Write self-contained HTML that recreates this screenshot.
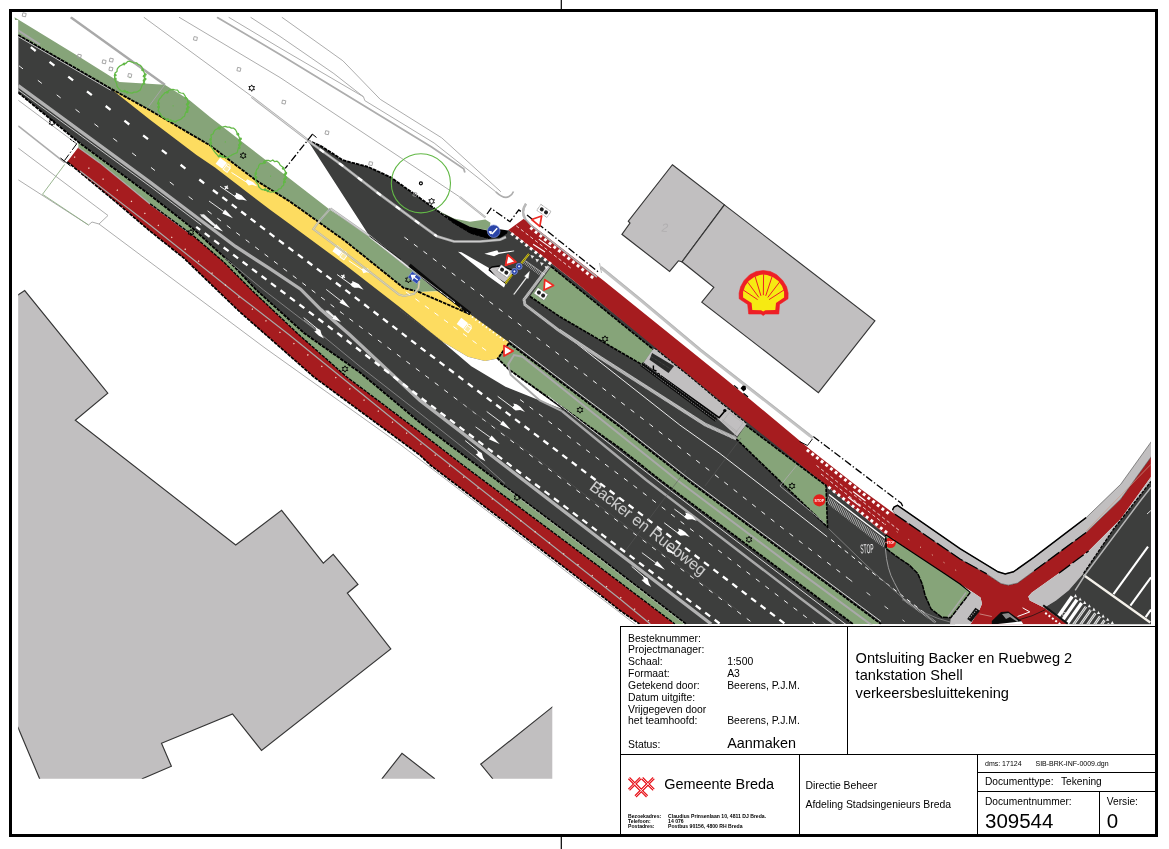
<!DOCTYPE html><html><head><meta charset="utf-8"><title>Ontsluiting Backer en Ruebweg 2</title>
<style>html,body{margin:0;padding:0;background:#fff}svg{display:block;will-change:transform}text{font-family:"Liberation Sans",sans-serif;fill:#000}</style></head><body>
<svg width="1169" height="849" viewBox="0 0 1169 849">
<rect width="1169" height="849" fill="#fff"/>
<defs><clipPath id="mapclip"><path d="M14,16.5H1151V624.2H552.3V778.8H18.2V20H14Z"/></clipPath><clipPath id="zclip"><path d="M1044.2,607.8 L1056,600.5 L1068.8,590.3 L1080,577 L1125,610 L1125,626 L1067.8,624.4Z"/></clipPath></defs>
<g clip-path="url(#mapclip)">
<polyline points="70.7,17.2 164.8,84.8" fill="none" stroke="#a9a9a9" stroke-width="2.4" />
<polyline points="164.8,84.8 148.6,106.7" fill="none" stroke="#adadad" stroke-width="1.0" />
<polyline points="143.8,17.2 251.7,96.3" fill="none" stroke="#adadad" stroke-width="1.0" />
<polyline points="251.7,96.9 308.3,140.4" fill="none" stroke="#adadad" stroke-width="2.4" />
<polyline points="251.7,96.9 308.3,140.4" fill="none" stroke="#fff" stroke-width="0.6" />
<polyline points="179.0,17.2 280.0,77.5 459.8,197.0" fill="none" stroke="#adadad" stroke-width="1.0" />
<polyline points="459.8,197.0 485.5,217.5" fill="none" stroke="#adadad" stroke-width="2.2" />
<polyline points="459.8,197.0 485.5,217.5" fill="none" stroke="#fff" stroke-width="0.5" />
<polyline points="217.0,17.2 280.0,54.4 431.6,146.9 463.7,168.7 464.9,172.5" fill="none" stroke="#adadad" stroke-width="1.8" />
<polyline points="228.6,17.2 280.0,48.0 363.5,96.8 364.8,100.6 434.1,143.0 495.8,191.8" fill="none" stroke="#adadad" stroke-width="1.0" />
<path d="M495.8,191.8 Q504,199.5 509,196.5 Q512.5,194.5 513.5,191.5" fill="none" stroke="#adadad" stroke-width="1.6"/>
<polyline points="250.5,17.2 280.0,36.4 333.9,73.6 363.5,96.8" fill="none" stroke="#adadad" stroke-width="1.0" />
<polyline points="281.8,17.2 342.9,60.8 380.2,99.3 441.8,137.9 500.9,191.8" fill="none" stroke="#adadad" stroke-width="1.0" />
<polyline points="18.2,100.2 76.7,143.8" fill="none" stroke="#adadad" stroke-width="1.0" />
<polyline points="18.2,125.9 64.7,162.6" fill="none" stroke="#adadad" stroke-width="1.6" />
<polyline points="18.2,148.1 108.0,215.5 99.0,224.0 92.0,222.0" fill="none" stroke="#adadad" stroke-width="1.0" />
<polyline points="18.2,179.8 88.5,225.0 92.0,222.0" fill="none" stroke="#adadad" stroke-width="1.0" />
<polyline points="99.0,224.0 265.0,348.0 400.0,444.3 640.0,628.0" fill="none" stroke="#adadad" stroke-width="1.0" />
<polyline points="64.7,164.4 42.5,194.3 88.5,225.0" fill="none" stroke="#8fae85" stroke-width="0.9" />
<polygon points="10.0,300.0 18.0,295.0 24.7,290.6 107.8,393.1 75.3,420.3 235.7,545.0 281.6,510.4 323.3,563.1 333.2,554.3 358.0,584.3 347.3,593.2 390.8,649.0 261.5,750.4 232.5,714.0 161.5,743.3 171.4,766.3 142.4,778.7 130.0,800.0 39.6,800.0 39.6,778.7 18.0,727.4 10.0,720.0" fill="#c1bfc0" stroke="#363636" stroke-width="1.15" />
<polygon points="382.1,778.6 402.0,753.3 434.5,778.6 434.0,800.0 382.0,800.0" fill="#c1bfc0" stroke="#363636" stroke-width="1.15" />
<polygon points="552.2,707.1 480.7,764.2 492.6,778.6 492.0,800.0 570.0,800.0 570.0,693.0" fill="#c1bfc0" stroke="#363636" stroke-width="1.15" />
<polygon points="672.4,164.7 724.4,204.9 682.0,261.8 678.4,260.8 669.6,271.4 621.9,234.3 630.0,223.0 628.3,221.2" fill="#c1bfc0" stroke="#363636" stroke-width="1.15" />
<polygon points="724.4,204.9 874.9,320.8 818.4,392.6 701.8,302.1 713.8,287.3 682.0,261.8" fill="#c1bfc0" stroke="#363636" stroke-width="1.15" />
<polygon points="78.4,147.3 99.8,162.6 150.0,203.7 192.8,235.3 223.6,261.9 252.6,291.0 299.2,335.0 346.8,377.0 420.0,432.0 462.8,465.0 600.0,567.3 674.9,624.0 639.5,624.0 620.0,610.5 600.0,594.6 430.3,465.0 420.0,455.2 313.9,377.0 266.1,335.0 240.0,312.1 184.2,258.4 150.0,231.1 119.5,205.0 67.3,161.8" fill="#a61c1f" stroke="none" stroke-width="0" />
<polygon points="78.4,142.1 150.0,195.0 192.8,228.5 230.4,262.7 256.4,290.0 304.0,333.0 360.0,372.5 420.0,422.6 476.5,465.0 600.0,557.8 686.0,624.0 674.9,624.0 600.0,567.3 462.8,465.0 420.0,432.0 346.8,377.0 299.2,335.0 252.6,291.0 223.6,261.9 192.8,235.3 150.0,203.7 99.8,162.6 78.4,147.3" fill="#86a479" stroke="none" stroke-width="0" />
<polygon points="14.5,17.2 18.2,19.4 78.4,56.2 119.5,81.9 164.8,84.8 189.3,100.0 210.0,117.0 329.6,209.5 368.4,234.6 406.0,265.0 436.8,291.0 437.8,291.3 418.7,292.0 403.6,287.9 373.6,263.8 344.7,240.6 290.0,201.6 256.0,180.4 209.9,145.3 150.0,110.3 110.9,88.7 18.2,35.0" fill="#86a479" stroke="none" stroke-width="0" />
<polygon points="18.2,35.0 110.9,88.7 150.0,110.3 209.9,145.3 256.0,180.4 290.0,201.6 344.7,240.6 373.6,263.8 403.6,287.9 418.7,292.0 470.1,314.2 509.0,342.5 620.0,426.9 687.3,480.0 800.0,563.8 881.0,624.0 686.0,624.0 600.0,557.8 476.5,465.0 420.0,422.6 360.0,372.5 304.0,333.0 256.4,290.0 230.4,262.7 192.8,228.5 150.0,195.0 78.4,142.1 18.2,92.5" fill="#3d3e3d" stroke="none" stroke-width="0" />
<polygon points="307.7,140.5 320.5,145.7 342.8,160.2 368.4,167.0 390.7,177.3 411.2,191.9 435.2,209.0 454.0,222.7 471.0,232.9 488.2,238.0 505.0,233.3 508.4,229.9 551.2,263.2 572.8,280.0 753.3,425.0 826.1,485.2 885.7,534.7 945.5,574.2 960.0,584.1 968.0,592.0 955.0,624.4 870.0,624.0 800.0,572.0 687.0,488.0 620.0,436.0 505.0,350.0 470.1,314.2 436.8,291.0 406.0,265.0 368.4,234.6" fill="#3d3e3d" stroke="none" stroke-width="0" />
<polygon points="110.9,88.7 150.0,110.3 209.9,145.3 256.0,180.4 290.0,201.6 344.7,240.6 373.6,263.8 403.6,287.9 418.7,292.0 437.8,291.3 470.1,314.2 509.0,342.2 497.8,358.5 485.0,361.1 467.9,356.8 442.2,341.4 399.5,307.0 344.7,264.6 290.0,224.2 269.8,209.5 215.0,167.6 196.5,155.0 150.0,119.7 110.9,88.7" fill="#fddc60" stroke="none" stroke-width="0" />
<polygon points="442.2,341.4 467.9,356.8 485.0,361.1 497.8,358.5 509.0,369.6 562.0,409.0 539.8,400.4 505.5,386.7 471.3,366.2" fill="#fff" stroke="none" stroke-width="0" />
<polygon points="509.0,343.0 620.0,426.9 687.3,480.0 800.0,563.8 881.0,624.0 853.0,624.0 800.0,584.4 660.0,480.0 620.0,448.3 509.0,369.6 497.8,358.5" fill="#86a479" stroke="none" stroke-width="0" />
<polygon points="523.8,218.8 602.8,280.0 726.8,380.0 809.0,448.4 860.0,488.6 895.0,514.2 960.0,559.0 986.7,573.9 1001.0,583.6 1008.3,585.2 1017.5,583.1 1034.2,570.8 1086.1,532.5 1120.7,499.1 1150.9,457.1 1150.9,476.9 1120.7,518.9 1088.6,551.0 1058.9,573.3 1031.9,592.4 1028.3,596.5 1029.8,600.6 1044.2,607.8 1067.8,624.4 970.3,624.4 979.5,609.8 982.0,603.7 980.5,597.5 971.3,591.3 960.0,584.1 945.5,574.2 885.7,534.7 826.1,485.2 720.0,400.5 572.8,280.0 551.2,263.2 508.4,229.9" fill="#a61c1f" stroke="none" stroke-width="0" />
<polygon points="894.0,507.0 897.5,505.3 960.0,548.7 998.0,571.8 1005.2,573.9 1013.4,571.8 1034.2,557.2 1086.1,517.7 1120.7,484.3 1150.9,442.2 1160.0,430.0 1160.0,445.0 1150.9,457.1 1120.7,499.1 1086.1,532.5 1034.2,570.8 1017.5,583.1 1008.3,585.2 1001.0,583.6 986.7,573.9 960.0,559.0 895.0,514.2 892.5,510.0" fill="#c1bfc0" stroke="#444" stroke-width="0.6" stroke-linejoin="round"/>
<polyline points="892.5,510.0 894.0,507.0 897.5,505.3 960.0,548.7 998.0,571.8 1005.2,573.9 1013.4,571.8 1034.2,557.2 1086.1,517.7" fill="none" stroke="#000" stroke-width="1.5" />
<polyline points="895.0,514.2 960.0,559.0 986.7,573.9" fill="none" stroke="#000" stroke-width="1.3" stroke-dasharray="14 3" />
<polyline points="1034.2,570.8 1086.1,532.5" fill="none" stroke="#000" stroke-width="1.3" stroke-dasharray="14 3" />
<polygon points="1028.3,596.5 1031.9,592.4 1058.9,573.3 1088.6,551.0 1120.7,518.9 1150.9,476.9 1150.9,481.5 1113.3,529.5 1083.6,573.3 1068.8,590.3 1056.0,600.5 1044.2,607.8 1029.8,600.6" fill="#c1bfc0" stroke="none" stroke-width="0" />
<polygon points="1083.6,573.3 1113.3,529.5 1150.9,481.5 1160.0,470.0 1160.0,630.0 1067.8,624.4 1044.2,607.8 1056.0,600.5 1068.8,590.3" fill="#3d3e3d" stroke="none" stroke-width="0" />
<polygon points="551.2,266.7 653.2,349.3 642.1,364.7 560.0,316.8 530.0,296.5" fill="#86a479" stroke="none" stroke-width="0" />
<polygon points="745.7,425.3 826.0,485.5 827.5,527.0 736.3,439.0" fill="#86a479" stroke="none" stroke-width="0" />
<polygon points="885.7,534.7 945.5,574.2 960.0,584.1 970.3,592.4 950.7,617.7 941.4,617.1 931.1,609.0 925.2,595.7 922.2,583.9 917.8,573.6 909.0,564.8 895.7,556.0 886.2,548.6" fill="#86a479" stroke="none" stroke-width="0" />
<polygon points="970.3,592.4 971.3,591.3 980.5,597.5 982.0,603.7 979.5,609.8 970.3,624.4 950.0,624.4 950.7,617.7" fill="#c1bfc0" stroke="none" stroke-width="0" />
<polygon points="654.2,347.6 690.0,376.4 720.0,401.6 747.0,423.4 737.1,436.5 717.4,418.6 642.1,364.7" fill="#c1bfc0" stroke="none" stroke-width="0" />
<polyline points="654.2,347.9 690.0,376.7 720.0,401.9 747.0,423.7" fill="none" stroke="#000" stroke-width="1.1" stroke-dasharray="3.2 1.1" />
<polyline points="164.8,84.8 148.6,106.7" fill="none" stroke="#a5a5a5" stroke-width="1.0" />
<polyline points="17.0,29.6 40.0,44.6" fill="none" stroke="#a9a9a9" stroke-width="1.9" />
<polyline points="18.2,35.0 110.9,88.7 150.0,110.3 209.9,145.3 256.0,180.4 290.0,201.6 344.7,240.6 373.6,263.8 403.6,287.9 418.7,292.0 470.1,314.2" fill="none" stroke="#000" stroke-width="1.85" stroke-dasharray="3.6 0.9" />
<polyline points="18.2,92.5 78.4,142.1 150.0,195.0 192.8,228.5 230.4,262.7 256.4,290.0 304.0,333.0 360.0,372.5 420.0,422.6 476.5,465.0 600.0,557.8 686.0,624.0" fill="none" stroke="#000" stroke-width="1.85" stroke-dasharray="3.6 0.9" />
<polyline points="67.3,161.8 119.5,205.0 150.0,231.1 184.2,258.4 240.0,312.1 266.1,335.0 313.9,377.0 420.0,455.2 430.3,465.0 600.0,594.6 620.0,610.5 639.5,624.0" fill="none" stroke="#000" stroke-width="1.65" stroke-dasharray="3.6 0.9" />
<polyline points="509.0,343.0 620.0,426.9 687.3,480.0 800.0,563.8 881.0,624.0" fill="none" stroke="#000" stroke-width="1.85" stroke-dasharray="3.6 0.9" />
<polyline points="509.0,343.0 497.8,358.5 509.0,369.6 620.0,448.3 660.0,480.0 800.0,584.4 853.0,624.0" fill="none" stroke="#000" stroke-width="1.85" stroke-dasharray="3.6 0.9" />
<polyline points="307.7,140.5 320.5,145.7 342.8,160.2 368.4,167.0 390.7,177.3 411.2,191.9 435.2,209.0 454.0,222.7 471.0,232.9 488.2,238.0 505.0,233.3" fill="none" stroke="#000" stroke-width="1.85" stroke-dasharray="3.6 0.9" />
<polyline points="18.2,36.6 110.9,90.3" fill="none" stroke="#fff" stroke-width="0.7" />
<polyline points="18.2,85.7 150.0,182.1 201.3,220.8 235.5,246.5 269.8,268.7 300.6,289.2 321.1,309.8 350.0,335.0 420.0,400.4 503.8,465.0 600.0,539.0 711.2,624.0" fill="none" stroke="#b2b2b2" stroke-width="3.3" />
<polyline points="18.2,89.9 150.0,186.3 201.3,225.0" fill="none" stroke="#fff" stroke-width="0.7" />
<polyline points="80.0,171.0 108.9,193.4 150.0,225.0 240.0,296.7 289.4,335.0 341.1,377.0 420.0,441.0 620.0,599.0 650.3,624.0" fill="none" stroke="#a9a9a9" stroke-width="1.2" />
<polyline points="78.4,147.6 99.8,162.9 150.0,204.0 192.8,235.6" fill="none" stroke="#a8a8a8" stroke-width="1.2" />
<polyline points="225.0,258.0 263.6,290.0 317.0,331.0 360.0,366.5 420.0,413.4 478.7,460.0 505.0,483.5" fill="none" stroke="#929292" stroke-width="0.8" />
<polyline points="505.0,487.6 600.0,559.2 686.0,625.4" fill="none" stroke="#a9b5a4" stroke-width="0.9" />
<polyline points="30.0,46.6 34.0,49.7 202.5,182.0 206.0,184.7" fill="none" stroke="#fff" stroke-width="2.3" stroke-dasharray="6.2 17.6" stroke-dashoffset="-1.0"/>
<polyline points="209.0,187.0 280.0,241.1 346.7,290.9 422.6,349.1 574.0,463.7 630.8,506.5 781.4,621.1 790.0,627.6" fill="none" stroke="#fff" stroke-width="2.3" stroke-dasharray="6.2 5.65" stroke-dashoffset="-4.9"/>
<polyline points="18.2,65.2 20.3,66.8 190.2,197.7 212.0,214.2" fill="none" stroke="#fff" stroke-width="0.95" stroke-dasharray="5 18.8" stroke-dashoffset="-1"/>
<polyline points="215.0,216.5 247.5,241.1 342.5,313.5 427.7,377.3 541.5,463.7 692.4,577.5 760.0,628.5" fill="none" stroke="#fff" stroke-width="0.95" stroke-dasharray="4.6 7.25" stroke-dashoffset="-3"/>
<polyline points="196.2,226.8 338.2,333.7 423.4,399.6 508.1,463.7 603.4,535.6 698.4,607.5 725.0,627.6" fill="none" stroke="#fff" stroke-width="2.3" stroke-dasharray="6.2 5.65" stroke-dashoffset="1.2"/>
<polyline points="520.1,399.6 604.8,464.0 634.2,486.0 793.3,607.5 820.0,627.7" fill="none" stroke="#fff" stroke-width="0.95" stroke-dasharray="4.6 7.25" />
<polyline points="562.0,411.0 646.2,480.0 800.0,598.0 835.0,624.5" fill="none" stroke="#a9a9a9" stroke-width="2.4" />
<polyline points="548.0,396.0 656.5,480.0 800.0,589.5 846.0,624.5" fill="none" stroke="#fff" stroke-width="0.8" />
<polyline points="881.0,632.0 800.0,572.4 677.0,480.0 522.6,356.8 514.0,355.0 508.1,364.5 510.7,374.7 539.8,400.4 562.0,411.0" fill="none" stroke="#a9a9a9" stroke-width="2" />
<polyline points="509.0,340.4 620.0,424.3 687.3,477.4 800.0,561.2 881.0,621.4" fill="none" stroke="#fff" stroke-width="0.8" />
<polyline points="404.4,237.2 424.0,251.7 560.0,355.3 650.7,425.0 725.1,482.7 774.7,522.0 801.5,542.7 848.6,578.8" fill="none" stroke="#fff" stroke-width="0.95" stroke-dasharray="4.6 7.25" />
<polyline points="848.6,578.8 904.6,621.5" fill="none" stroke="#fff" stroke-width="0.8" stroke-dasharray="4.6 18" />
<polyline points="560.0,330.5 679.8,425.0 720.0,453.6 800.0,515.5 827.2,536.8" fill="none" stroke="#fff" stroke-width="0.9" />
<polyline points="831.0,539.5 869.0,570.0 926.0,614.0" fill="none" stroke="#fff" stroke-width="1.0" stroke-dasharray="4.4 4.4" />
<polyline points="307.7,140.5 341.0,164.5 378.7,193.6 418.0,222.6 436.9,236.3 454.0,241.5 480.0,241.5 500.0,239.8 506.0,237.0" fill="none" stroke="#a9a9a9" stroke-width="2.6" />
<polyline points="307.7,140.5 341.0,164.5 378.7,193.6 418.0,222.6 436.9,236.3 454.0,241.5 480.0,241.5 500.0,239.8 506.0,237.0" fill="none" stroke="#e8e8e8" stroke-width="0.6" />
<polyline points="307.7,140.5 341.0,164.5 378.7,193.6 418.0,222.6 436.9,236.3" fill="none" stroke="#fff" stroke-width="2.3" stroke-dasharray="5.2 18.6" stroke-dashoffset="-14.8"/>
<polyline points="548.8,266.3 524.0,299.6 525.0,304.7 560.0,331.3 600.0,357.8 705.4,425.0 736.3,439.0" fill="none" stroke="#9e9e9e" stroke-width="3.0" />
<polyline points="548.8,266.3 524.0,299.6 525.0,304.7 560.0,331.3 600.0,357.8 705.4,425.0 736.3,439.0" fill="none" stroke="#c9c9c9" stroke-width="2.6" stroke-dasharray="0.7 0.7" />
<polyline points="560.0,329.4 600.0,355.9 705.4,423.1 736.3,437.1" fill="none" stroke="#e9e9e9" stroke-width="0.6" />
<polyline points="150.0,203.7 192.8,235.3 223.6,261.9 252.6,291.0 299.2,335.0 346.8,377.0 420.0,432.0 462.8,465.0 600.0,567.3 674.9,624.0" fill="none" stroke="#000" stroke-width="1.35" stroke-dasharray="3.6 0.9" />
<polygon points="144.6,77.6 144.2,79.7 144.2,81.9 143.1,83.8 142.0,85.6 141.2,87.7 140.3,89.9 138.4,91.1 136.4,92.2 134.1,92.1 132.1,93.1 130.0,92.8 127.9,92.5 126.0,91.9 124.0,91.4 121.5,91.3 119.8,89.8 118.3,88.1 117.0,86.3 116.8,83.9 115.9,81.9 115.0,79.9 114.6,77.6 114.6,75.3 115.0,73.0 117.0,71.4 117.2,69.1 118.5,67.2 120.2,65.8 122.2,64.9 123.8,63.4 126.0,63.3 127.8,61.4 130.0,61.4 132.1,62.1 134.1,63.0 136.5,62.8 138.2,64.4 140.2,65.3 141.8,67.0 142.6,69.2 143.5,71.2 144.5,73.2 144.7,75.4" fill="none" stroke="#62b846" stroke-width="1.25" stroke-linejoin="round"/>
<circle cx="142.6" cy="69.9" r="1.35" fill="#62b846"/>
<circle cx="145.3" cy="74.5" r="1.35" fill="#62b846"/>
<circle cx="144.1" cy="76.2" r="1.35" fill="#62b846"/>
<circle cx="145.2" cy="79.1" r="1.35" fill="#62b846"/>
<circle cx="144.0" cy="80.7" r="1.35" fill="#62b846"/>
<circle cx="144.0" cy="83.5" r="1.35" fill="#62b846"/>
<circle cx="127.3" cy="92.4" r="1.35" fill="#62b846"/>
<circle cx="124.6" cy="91.2" r="1.35" fill="#62b846"/>
<circle cx="115.4" cy="78.9" r="1.35" fill="#62b846"/>
<circle cx="115.2" cy="75.2" r="1.35" fill="#62b846"/>
<circle cx="124.1" cy="64.1" r="1.35" fill="#62b846"/>
<circle cx="130.0" cy="77.6" r="0.6" fill="#62b846"/>
<polygon points="187.6,105.8 187.6,108.0 188.0,110.3 186.1,112.0 185.1,113.8 184.6,116.2 182.7,117.3 181.2,119.0 179.3,119.9 177.3,120.5 175.3,122.1 173.1,120.9 171.0,121.1 169.0,120.3 166.8,120.2 165.2,118.6 163.4,117.4 161.5,116.3 160.7,114.1 159.4,112.3 158.1,110.4 158.9,107.9 158.8,105.8 158.7,103.6 158.3,101.3 159.3,99.2 160.8,97.6 162.0,95.8 163.6,94.4 165.0,92.7 167.2,92.3 168.8,90.5 170.9,89.7 173.1,89.4 175.3,90.0 177.5,90.1 179.0,92.3 181.0,93.0 183.4,93.4 184.8,95.3 185.6,97.4 187.4,99.0 187.7,101.3 188.5,103.5" fill="none" stroke="#62b846" stroke-width="1.25" stroke-linejoin="round"/>
<circle cx="185.7" cy="98.1" r="1.35" fill="#62b846"/>
<circle cx="188.4" cy="102.7" r="1.35" fill="#62b846"/>
<circle cx="187.2" cy="104.4" r="1.35" fill="#62b846"/>
<circle cx="188.3" cy="107.3" r="1.35" fill="#62b846"/>
<circle cx="187.1" cy="108.9" r="1.35" fill="#62b846"/>
<circle cx="187.1" cy="111.7" r="1.35" fill="#62b846"/>
<circle cx="170.4" cy="120.6" r="1.35" fill="#62b846"/>
<circle cx="167.7" cy="119.4" r="1.35" fill="#62b846"/>
<circle cx="158.5" cy="107.1" r="1.35" fill="#62b846"/>
<circle cx="158.3" cy="103.4" r="1.35" fill="#62b846"/>
<circle cx="167.2" cy="92.3" r="1.35" fill="#62b846"/>
<circle cx="173.1" cy="105.8" r="0.6" fill="#62b846"/>
<polygon points="240.0,141.9 239.7,144.0 239.6,146.3 238.4,148.1 237.8,150.2 237.2,152.6 234.9,153.5 233.0,154.3 231.2,155.4 229.4,156.3 227.5,157.8 225.3,157.3 223.2,157.0 221.3,156.2 218.7,156.8 217.3,154.9 215.8,153.3 214.5,151.6 213.3,149.9 212.1,148.2 210.6,146.4 211.0,144.0 211.0,141.9 210.5,139.7 211.3,137.6 210.9,135.1 213.2,133.8 213.9,131.7 215.2,129.8 217.3,128.9 218.7,127.0 221.1,127.0 223.2,126.9 225.3,126.4 227.3,127.2 229.5,127.1 231.4,128.1 233.7,128.2 235.5,129.7 236.6,131.7 237.3,133.9 238.6,135.6 239.3,137.6 239.7,139.7" fill="none" stroke="#62b846" stroke-width="1.25" stroke-linejoin="round"/>
<circle cx="237.9" cy="134.2" r="1.35" fill="#62b846"/>
<circle cx="240.6" cy="138.8" r="1.35" fill="#62b846"/>
<circle cx="239.4" cy="140.5" r="1.35" fill="#62b846"/>
<circle cx="240.5" cy="143.4" r="1.35" fill="#62b846"/>
<circle cx="239.3" cy="145.0" r="1.35" fill="#62b846"/>
<circle cx="239.3" cy="147.8" r="1.35" fill="#62b846"/>
<circle cx="222.6" cy="156.7" r="1.35" fill="#62b846"/>
<circle cx="219.9" cy="155.5" r="1.35" fill="#62b846"/>
<circle cx="210.7" cy="143.2" r="1.35" fill="#62b846"/>
<circle cx="210.5" cy="139.5" r="1.35" fill="#62b846"/>
<circle cx="219.4" cy="128.4" r="1.35" fill="#62b846"/>
<circle cx="225.3" cy="141.9" r="0.6" fill="#62b846"/>
<polygon points="285.2,176.1 286.0,178.4 284.4,180.3 283.6,182.3 283.8,184.9 282.0,186.4 280.9,188.5 278.6,189.1 277.1,190.9 274.9,191.3 272.8,192.0 270.6,192.1 268.5,191.5 266.6,190.4 264.6,189.9 262.2,189.7 260.4,188.4 258.8,186.8 258.2,184.4 256.7,182.7 255.7,180.6 255.5,178.4 255.1,176.1 255.7,173.9 256.0,171.6 256.7,169.5 258.3,167.9 258.8,165.4 260.3,163.7 262.9,163.6 264.1,161.2 266.2,160.4 268.4,160.4 270.6,161.3 272.8,160.0 274.7,161.7 277.1,161.2 278.9,162.7 280.0,164.9 281.5,166.2 283.4,167.5 284.3,169.6 285.4,171.6 286.1,173.8" fill="none" stroke="#62b846" stroke-width="1.25" stroke-linejoin="round"/>
<circle cx="283.2" cy="168.4" r="1.35" fill="#62b846"/>
<circle cx="285.9" cy="173.0" r="1.35" fill="#62b846"/>
<circle cx="284.7" cy="174.7" r="1.35" fill="#62b846"/>
<circle cx="285.8" cy="177.6" r="1.35" fill="#62b846"/>
<circle cx="284.6" cy="179.2" r="1.35" fill="#62b846"/>
<circle cx="284.6" cy="182.0" r="1.35" fill="#62b846"/>
<circle cx="267.9" cy="190.9" r="1.35" fill="#62b846"/>
<circle cx="265.2" cy="189.7" r="1.35" fill="#62b846"/>
<circle cx="256.0" cy="177.4" r="1.35" fill="#62b846"/>
<circle cx="255.8" cy="173.7" r="1.35" fill="#62b846"/>
<circle cx="264.7" cy="162.6" r="1.35" fill="#62b846"/>
<circle cx="270.6" cy="176.1" r="0.6" fill="#62b846"/>
<circle cx="420.9" cy="183.3" r="29.6" fill="none" stroke="#62b846" stroke-width="1.1"/>
<circle cx="420.9" cy="183.3" r="1.5" fill="#fff" stroke="#000" stroke-width="1.2"/>
<polygon points="251.7,84.9 252.6,86.6 254.5,86.5 253.5,88.1 254.5,89.7 252.6,89.6 251.7,91.3 250.8,89.6 248.9,89.7 249.9,88.1 248.9,86.5 250.8,86.6" fill="none" stroke="#000" stroke-width="0.9"/>
<polygon points="243.2,152.4 244.1,154.1 246.0,154.0 245.0,155.6 246.0,157.2 244.1,157.1 243.2,158.8 242.3,157.1 240.4,157.2 241.4,155.6 240.4,154.0 242.3,154.1" fill="none" stroke="#000" stroke-width="0.9"/>
<polygon points="431.6,198.1 432.5,199.8 434.4,199.7 433.4,201.3 434.4,202.9 432.5,202.8 431.6,204.5 430.7,202.8 428.8,202.9 429.8,201.3 428.8,199.7 430.7,199.8" fill="none" stroke="#000" stroke-width="0.9"/>
<polygon points="52.0,119.3 52.9,121.0 54.8,120.9 53.8,122.5 54.8,124.1 52.9,124.0 52.0,125.7 51.1,124.0 49.2,124.1 50.2,122.5 49.2,120.9 51.1,121.0" fill="none" stroke="#000" stroke-width="0.9"/>
<polygon points="191.0,229.3 191.9,231.0 193.8,230.9 192.8,232.5 193.8,234.1 191.9,234.0 191.0,235.7 190.1,234.0 188.2,234.1 189.2,232.5 188.2,230.9 190.1,231.0" fill="none" stroke="#000" stroke-width="0.9"/>
<polygon points="345.0,365.8 345.9,367.5 347.8,367.4 346.8,369.0 347.8,370.6 345.9,370.5 345.0,372.2 344.1,370.5 342.2,370.6 343.2,369.0 342.2,367.4 344.1,367.5" fill="none" stroke="#000" stroke-width="0.9"/>
<polygon points="408.4,276.5 409.3,278.2 411.2,278.1 410.2,279.7 411.2,281.3 409.3,281.2 408.4,282.9 407.5,281.2 405.6,281.3 406.6,279.7 405.6,278.1 407.5,278.2" fill="none" stroke="#000" stroke-width="0.9"/>
<polygon points="605.0,335.8 605.9,337.5 607.8,337.4 606.8,339.0 607.8,340.6 605.9,340.5 605.0,342.2 604.1,340.5 602.2,340.6 603.2,339.0 602.2,337.4 604.1,337.5" fill="none" stroke="#000" stroke-width="0.9"/>
<polygon points="580.0,406.8 580.9,408.5 582.8,408.4 581.8,410.0 582.8,411.6 580.9,411.5 580.0,413.2 579.1,411.5 577.2,411.6 578.2,410.0 577.2,408.4 579.1,408.5" fill="none" stroke="#000" stroke-width="0.9"/>
<polygon points="749.0,536.3 749.9,538.0 751.8,537.9 750.8,539.5 751.8,541.1 749.9,541.0 749.0,542.7 748.1,541.0 746.2,541.1 747.2,539.5 746.2,537.9 748.1,538.0" fill="none" stroke="#000" stroke-width="0.9"/>
<polygon points="792.0,482.8 792.9,484.5 794.8,484.4 793.8,486.0 794.8,487.6 792.9,487.5 792.0,489.2 791.1,487.5 789.2,487.6 790.2,486.0 789.2,484.4 791.1,484.5" fill="none" stroke="#000" stroke-width="0.9"/>
<polygon points="517.0,494.3 517.9,496.0 519.8,495.9 518.8,497.5 519.8,499.1 517.9,499.0 517.0,500.7 516.1,499.0 514.2,499.1 515.2,497.5 514.2,495.9 516.1,496.0" fill="none" stroke="#000" stroke-width="0.9"/>
<rect x="77.6" y="54.5" width="3.4" height="3.4" fill="none" stroke="#9a9a9a" stroke-width="0.8" transform="rotate(12 79.3 56.2)"/>
<rect x="102.4" y="60.1" width="3.4" height="3.4" fill="none" stroke="#9a9a9a" stroke-width="0.8" transform="rotate(12 104.1 61.8)"/>
<rect x="109.6" y="58.4" width="3.4" height="3.4" fill="none" stroke="#9a9a9a" stroke-width="0.8" transform="rotate(12 111.3 60.1)"/>
<rect x="109.2" y="67.3" width="3.4" height="3.4" fill="none" stroke="#9a9a9a" stroke-width="0.8" transform="rotate(12 110.9 69.0)"/>
<rect x="128.1" y="73.8" width="3.4" height="3.4" fill="none" stroke="#9a9a9a" stroke-width="0.8" transform="rotate(12 129.8 75.5)"/>
<rect x="193.7" y="36.9" width="3.4" height="3.4" fill="none" stroke="#9a9a9a" stroke-width="0.8" transform="rotate(12 195.4 38.6)"/>
<rect x="237.2" y="67.7" width="3.4" height="3.4" fill="none" stroke="#9a9a9a" stroke-width="0.8" transform="rotate(12 238.9 69.4)"/>
<rect x="282.1" y="100.4" width="3.4" height="3.4" fill="none" stroke="#9a9a9a" stroke-width="0.8" transform="rotate(12 283.8 102.1)"/>
<rect x="325.3" y="131.0" width="3.4" height="3.4" fill="none" stroke="#9a9a9a" stroke-width="0.8" transform="rotate(12 327.0 132.7)"/>
<rect x="369.0" y="161.9" width="3.4" height="3.4" fill="none" stroke="#9a9a9a" stroke-width="0.8" transform="rotate(12 370.7 163.6)"/>
<rect x="413.2" y="192.7" width="3.4" height="3.4" fill="none" stroke="#9a9a9a" stroke-width="0.8" transform="rotate(12 414.9 194.4)"/>
<polygon points="438.0,210.5 454.0,218.4 470.0,221.7 485.4,219.6 490.5,222.7 489.0,230.6 470.0,227.0 447.0,216.5" fill="#86a479" stroke="none" stroke-width="0" />
<polygon points="443.0,213.5 470.0,226.8 487.5,230.4 492.0,228.0 508.0,230.5 507.0,233.5 500.8,237.4 488.2,238.6 471.0,233.6 454.0,223.4" fill="#000" stroke="none" stroke-width="0" />
<rect x="529.95" y="227.05" width="2.9" height="2.9" fill="#fff" transform="rotate(38.5 531.40 228.50)"/>
<rect x="534.61" y="230.79" width="2.9" height="2.9" fill="#fff" transform="rotate(38.5 536.06 232.24)"/>
<rect x="539.27" y="234.53" width="2.9" height="2.9" fill="#fff" transform="rotate(38.5 540.72 235.98)"/>
<rect x="543.93" y="238.27" width="2.9" height="2.9" fill="#fff" transform="rotate(38.5 545.38 239.72)"/>
<rect x="548.60" y="242.00" width="2.9" height="2.9" fill="#fff" transform="rotate(38.5 550.05 243.45)"/>
<rect x="553.26" y="245.74" width="2.9" height="2.9" fill="#fff" transform="rotate(38.5 554.71 247.19)"/>
<rect x="557.92" y="249.48" width="2.9" height="2.9" fill="#fff" transform="rotate(38.5 559.37 250.93)"/>
<rect x="562.58" y="253.22" width="2.9" height="2.9" fill="#fff" transform="rotate(38.5 564.03 254.67)"/>
<rect x="567.24" y="256.96" width="2.9" height="2.9" fill="#fff" transform="rotate(38.5 568.69 258.41)"/>
<rect x="571.90" y="260.70" width="2.9" height="2.9" fill="#fff" transform="rotate(38.5 573.35 262.15)"/>
<rect x="576.57" y="264.43" width="2.9" height="2.9" fill="#fff" transform="rotate(38.5 578.02 265.88)"/>
<rect x="581.23" y="268.17" width="2.9" height="2.9" fill="#fff" transform="rotate(38.5 582.68 269.62)"/>
<rect x="585.89" y="271.91" width="2.9" height="2.9" fill="#fff" transform="rotate(38.5 587.34 273.36)"/>
<rect x="590.55" y="275.65" width="2.9" height="2.9" fill="#fff" transform="rotate(38.5 592.00 277.10)"/>
<rect x="510.95" y="232.85" width="2.9" height="2.9" fill="#fff" transform="rotate(38.5 512.40 234.30)"/>
<rect x="515.64" y="236.48" width="2.9" height="2.9" fill="#fff" transform="rotate(38.5 517.09 237.93)"/>
<rect x="520.32" y="240.10" width="2.9" height="2.9" fill="#fff" transform="rotate(38.5 521.77 241.55)"/>
<rect x="525.01" y="243.73" width="2.9" height="2.9" fill="#fff" transform="rotate(38.5 526.46 245.18)"/>
<rect x="529.70" y="247.35" width="2.9" height="2.9" fill="#fff" transform="rotate(38.5 531.15 248.80)"/>
<rect x="534.39" y="250.98" width="2.9" height="2.9" fill="#fff" transform="rotate(38.5 535.84 252.43)"/>
<rect x="539.07" y="254.60" width="2.9" height="2.9" fill="#fff" transform="rotate(38.5 540.52 256.05)"/>
<rect x="543.76" y="258.23" width="2.9" height="2.9" fill="#fff" transform="rotate(38.5 545.21 259.68)"/>
<rect x="548.45" y="261.85" width="2.9" height="2.9" fill="#fff" transform="rotate(38.5 549.90 263.30)"/>
<polyline points="516.2,225.8 572.0,269.0" fill="none" stroke="#fff" stroke-width="0.8" stroke-dasharray="3.4 2.56" />
<polyline points="538.8,239.1 551.1,247.9" fill="none" stroke="#fff" stroke-width="1.1" />
<polyline points="533.1,244.3 545.0,252.0" fill="none" stroke="#fff" stroke-width="1.1" />
<rect x="806.55" y="449.25" width="2.9" height="2.9" fill="#fff" transform="rotate(38.5 808.00 450.70)"/>
<rect x="811.23" y="452.90" width="2.9" height="2.9" fill="#fff" transform="rotate(38.5 812.68 454.35)"/>
<rect x="815.90" y="456.56" width="2.9" height="2.9" fill="#fff" transform="rotate(38.5 817.35 458.01)"/>
<rect x="820.58" y="460.21" width="2.9" height="2.9" fill="#fff" transform="rotate(38.5 822.03 461.66)"/>
<rect x="825.26" y="463.86" width="2.9" height="2.9" fill="#fff" transform="rotate(38.5 826.71 465.31)"/>
<rect x="829.93" y="467.51" width="2.9" height="2.9" fill="#fff" transform="rotate(38.5 831.38 468.96)"/>
<rect x="834.61" y="471.17" width="2.9" height="2.9" fill="#fff" transform="rotate(38.5 836.06 472.62)"/>
<rect x="839.29" y="474.82" width="2.9" height="2.9" fill="#fff" transform="rotate(38.5 840.74 476.27)"/>
<rect x="843.96" y="478.47" width="2.9" height="2.9" fill="#fff" transform="rotate(38.5 845.41 479.92)"/>
<rect x="848.64" y="482.13" width="2.9" height="2.9" fill="#fff" transform="rotate(38.5 850.09 483.58)"/>
<rect x="853.31" y="485.78" width="2.9" height="2.9" fill="#fff" transform="rotate(38.5 854.76 487.23)"/>
<rect x="857.99" y="489.43" width="2.9" height="2.9" fill="#fff" transform="rotate(38.5 859.44 490.88)"/>
<rect x="862.67" y="493.09" width="2.9" height="2.9" fill="#fff" transform="rotate(38.5 864.12 494.54)"/>
<rect x="867.34" y="496.74" width="2.9" height="2.9" fill="#fff" transform="rotate(38.5 868.79 498.19)"/>
<rect x="872.02" y="500.39" width="2.9" height="2.9" fill="#fff" transform="rotate(38.5 873.47 501.84)"/>
<rect x="876.70" y="504.04" width="2.9" height="2.9" fill="#fff" transform="rotate(38.5 878.15 505.49)"/>
<rect x="881.37" y="507.70" width="2.9" height="2.9" fill="#fff" transform="rotate(38.5 882.82 509.15)"/>
<rect x="886.05" y="511.35" width="2.9" height="2.9" fill="#fff" transform="rotate(38.5 887.50 512.80)"/>
<rect x="828.05" y="486.35" width="2.9" height="2.9" fill="#fff" transform="rotate(38.5 829.50 487.80)"/>
<rect x="832.75" y="490.03" width="2.9" height="2.9" fill="#fff" transform="rotate(38.5 834.20 491.48)"/>
<rect x="837.45" y="493.70" width="2.9" height="2.9" fill="#fff" transform="rotate(38.5 838.90 495.15)"/>
<rect x="842.15" y="497.38" width="2.9" height="2.9" fill="#fff" transform="rotate(38.5 843.60 498.82)"/>
<rect x="846.85" y="501.05" width="2.9" height="2.9" fill="#fff" transform="rotate(38.5 848.30 502.50)"/>
<rect x="851.55" y="504.73" width="2.9" height="2.9" fill="#fff" transform="rotate(38.5 853.00 506.18)"/>
<rect x="856.25" y="508.40" width="2.9" height="2.9" fill="#fff" transform="rotate(38.5 857.70 509.85)"/>
<rect x="860.95" y="512.07" width="2.9" height="2.9" fill="#fff" transform="rotate(38.5 862.40 513.52)"/>
<rect x="865.65" y="515.75" width="2.9" height="2.9" fill="#fff" transform="rotate(38.5 867.10 517.20)"/>
<rect x="870.35" y="519.42" width="2.9" height="2.9" fill="#fff" transform="rotate(38.5 871.80 520.88)"/>
<rect x="875.05" y="523.10" width="2.9" height="2.9" fill="#fff" transform="rotate(38.5 876.50 524.55)"/>
<rect x="879.75" y="526.77" width="2.9" height="2.9" fill="#fff" transform="rotate(38.5 881.20 528.23)"/>
<rect x="884.45" y="530.45" width="2.9" height="2.9" fill="#fff" transform="rotate(38.5 885.90 531.90)"/>
<polyline points="816.5,465.5 900.0,531.0" fill="none" stroke="#fff" stroke-width="0.8" stroke-dasharray="3.4 2.56" />
<polyline points="821.0,474.0 885.0,524.5" fill="none" stroke="#fff" stroke-width="0.8" stroke-dasharray="3.4 2.56" />
<polyline points="853.0,491.5 865.5,501.0" fill="none" stroke="#fff" stroke-width="1.1" />
<polyline points="848.0,497.0 860.5,506.5" fill="none" stroke="#fff" stroke-width="1.1" />
<polyline points="885.0,524.0 960.0,573.0" fill="none" stroke="#f4d9c0" stroke-width="1.0" stroke-dasharray="1 13" />
<polyline points="74.2,156.7 130.6,200.6 262.0,317.7 346.0,386.0 420.0,443.5 620.0,597.0 655.0,626.0" fill="none" stroke="#f6dccf" stroke-width="1.3" stroke-dasharray="1.2 16.8" />
<polyline points="312.5,134.2 285.2,168.4" fill="none" stroke="#000" stroke-width="1.3" stroke-dasharray="7.5 2.2 1.4 2.2" />
<polyline points="316.5,137.5 312.5,134.2" fill="none" stroke="#000" stroke-width="1" />
<polyline points="487.0,214.0 491.0,208.3 510.0,221.7 518.8,209.9 521.0,211.5" fill="none" stroke="#000" stroke-width="1.3" stroke-dasharray="7.5 2.2 1.4 2.2" />
<polyline points="527.0,215.0 599.1,272.6" fill="none" stroke="#000" stroke-width="1.3" stroke-dasharray="7.5 2.2 1.4 2.2" />
<polyline points="813.2,436.5 901.3,503.2 903.0,507.0" fill="none" stroke="#000" stroke-width="1.3" stroke-dasharray="7.5 2.2 1.4 2.2" />
<polyline points="76.7,143.8 64.5,160.5" fill="none" stroke="#000" stroke-width="1" stroke-dasharray="7.5 2.2 1.4 2.2" />
<polyline points="70.0,139.0 76.7,143.8" fill="none" stroke="#000" stroke-width="1" stroke-dasharray="2 1.5" />
<polyline points="60.5,158.0 70.5,166.0" fill="none" stroke="#000" stroke-width="1" />
<path d="M526,203.7 Q520.5,211.5 525.4,219.1 L531.6,225.8 L597,277" fill="none" stroke="#adadad" stroke-width="1.6"/>
<path d="M526,203.7 Q520.5,211.5 525.4,219.1" fill="none" stroke="#b9b9b9" stroke-width="2.6"/>
<polyline points="600.8,267.5 640.0,299.5 700.3,350.0 810.0,435.7 813.0,438.2" fill="none" stroke="#c3c3c3" stroke-width="3.0" />
<polyline points="600.8,266.2 640.0,298.2 700.3,348.7 810.0,434.4" fill="none" stroke="#aaa" stroke-width="0.5" />
<polyline points="599.5,263.0 601.5,273.0" fill="none" stroke="#aaa" stroke-width="0.8" />
<polyline points="812.4,439.0 807.5,445.5 799.5,441.5" fill="none" stroke="#000" stroke-width="0.9" />
<polygon points="531.0,215.7 541.5,215.7 536.2,224.9" fill="#fff" stroke="#ee2b24" stroke-width="1.7" stroke-linejoin="round" transform="rotate(100 536.2 220.3)"/>
<g transform="translate(543.9 210.9) rotate(35)"><rect x="-6.2" y="-3.6" width="12.4" height="7.2" fill="#fff" stroke="#444" stroke-width="0.5" stroke-dasharray="1 0.6"/><circle cx="-2.6" cy="0" r="2" fill="#222"/><circle cx="2.6" cy="0" r="2" fill="#222"/></g>
<polygon points="505.9,256.3 516.5,256.3 511.2,265.5" fill="#fff" stroke="#ee2b24" stroke-width="1.7" stroke-linejoin="round" transform="rotate(-78 511.2 260.9)"/>
<g transform="translate(504.2 271.2) rotate(35)"><rect x="-6.2" y="-3.6" width="12.4" height="7.2" fill="#fff" stroke="#444" stroke-width="0.5" stroke-dasharray="1 0.6"/><circle cx="-2.6" cy="0" r="2" fill="#222"/><circle cx="2.6" cy="0" r="2" fill="#222"/></g>
<polygon points="543.8,280.6 554.2,280.6 549.0,289.8" fill="#fff" stroke="#ee2b24" stroke-width="1.7" stroke-linejoin="round" transform="rotate(-86 549.0 285.2)"/>
<g transform="translate(541.0 294.0) rotate(35)"><rect x="-6.2" y="-3.6" width="12.4" height="7.2" fill="#fff" stroke="#444" stroke-width="0.5" stroke-dasharray="1 0.6"/><circle cx="-2.6" cy="0" r="2" fill="#222"/><circle cx="2.6" cy="0" r="2" fill="#222"/></g>
<polygon points="503.4,346.3 513.9,346.3 508.6,355.5" fill="#fff" stroke="#ee2b24" stroke-width="1.7" stroke-linejoin="round" transform="rotate(-90 508.6 350.9)"/>
<circle cx="493.7" cy="231.2" r="6.3" fill="#2b45a8" stroke="#8ea0dd" stroke-width="0.6"/>
<path d="M489.7,232.2 L492.3,233.6 L497.2,228.3" fill="none" stroke="#fff" stroke-width="1.5"/>
<path d="M488.6,231 L492,231.2 L490.3,234.4Z" fill="#fff"/>
<circle cx="519.1" cy="266.4" r="2.9" fill="#2b45a8" stroke="#8ea0dd" stroke-width="0.6"/>
<circle cx="514.4" cy="271.4" r="2.9" fill="#2b45a8" stroke="#8ea0dd" stroke-width="0.6"/>
<path d="M518,266.4h2.2M519.1,265.3v2.2M513.3,271.4h2.2M514.4,270.3v2.2" stroke="#fff" stroke-width="0.8"/>
<g transform="translate(414.5 277.6) rotate(36)"><rect x="-5.5" y="-3.6" width="11" height="7.2" fill="#2d49b4" stroke="#9fb0e6" stroke-width="0.5"/><path d="M4,0H-2.2M-0.8,-2.2L-3.8,0L-0.8,2.2Z" stroke="#fff" stroke-width="1.2" fill="#fff"/></g>
<circle cx="819.3" cy="500.3" r="6.1" fill="#e3201c"/>
<text x="819.3" y="501.8" font-size="4.3" text-anchor="middle" style="fill:#fff" font-weight="bold" textLength="9.5" lengthAdjust="spacingAndGlyphs">STOP</text>
<circle cx="890.5" cy="542.6" r="5.4" fill="#e3201c"/>
<text x="890.5" y="544.1" font-size="4.3" text-anchor="middle" style="fill:#fff" font-weight="bold" textLength="8.4" lengthAdjust="spacingAndGlyphs">STOP</text>
<polygon points="488.8,269.2 492.0,267.0 499.9,266.0 515.3,270.9 505.0,283.2 496.0,277.5" fill="#c4c2c3" stroke="#000" stroke-width="1.3" stroke-linejoin="round"/>
<polyline points="529.0,253.8 521.3,263.3" fill="none" stroke="#f3e41c" stroke-width="1.9" />
<polyline points="512.1,274.6 505.4,283.6" fill="none" stroke="#f3e41c" stroke-width="1.9" />
<polyline points="529.4,253.2 505.0,284.2" fill="none" stroke="#000" stroke-width="0.5" />
<g transform="translate(504.2 271.2) rotate(35)"><rect x="-6.2" y="-3.6" width="12.4" height="7.2" fill="#fff" stroke="#444" stroke-width="0.5" stroke-dasharray="1 0.6"/><circle cx="-2.6" cy="0" r="2" fill="#222"/><circle cx="2.6" cy="0" r="2" fill="#222"/></g>
<polygon points="505.9,256.3 516.5,256.3 511.2,265.5" fill="#fff" stroke="#ee2b24" stroke-width="1.7" stroke-linejoin="round" transform="rotate(-78 511.2 260.9)"/>
<circle cx="519.1" cy="266.4" r="2.9" fill="#2b45a8" stroke="#8ea0dd" stroke-width="0.6"/>
<circle cx="514.4" cy="271.4" r="2.9" fill="#2b45a8" stroke="#8ea0dd" stroke-width="0.6"/>
<path d="M518,266.4h2.2M519.1,265.3v2.2M513.3,271.4h2.2M514.4,270.3v2.2" stroke="#fff" stroke-width="0.8"/>
<polygon points="458.0,251.8 461.5,252.2 489.0,268.0 488.5,270.5 505.5,284.0 504.0,287.5 488.0,276.0" fill="#fff" stroke="none" stroke-width="0" />
<path d="M514.1,250.5 L498.6,252.6 L497.2,250.2 L484.4,253.7 L494.1,256.3 L498.9,254.1 L514.2,251.3 Z" fill="#fff"/>
<path d="M513.6,294.2 L526.2,277.2 L524.6,276.2 L529.4,271.4 L528.2,278.6 L526.9,277.7 L514.2,294.6Z" fill="#fff" stroke="#fff" stroke-width="0.4"/>
<polygon points="530.5,255.1 534.3,255.9 532.0,258.8" fill="#e8e8e8"/>
<polygon points="535.4,258.7 539.2,259.5 536.9,262.4" fill="#e8e8e8"/>
<polygon points="540.0,262.3 543.8,263.1 541.5,266.0" fill="#e8e8e8"/>
<polygon points="544.6,265.9 548.4,266.7 546.1,269.6" fill="#e8e8e8"/>
<polyline points="525.4,260.7 545.0,274.6" fill="none" stroke="#fff" stroke-width="0.6" />
<polyline points="524.2,262.4 543.6,276.4" fill="none" stroke="#ddd" stroke-width="3.4" stroke-dasharray="0.5 1.2" />
<g transform="translate(222.7 164.6) rotate(37)"><rect x="-6.2" y="-4" width="8.4" height="7.6" fill="#fff"/><rect x="3.2" y="-1.6" width="5" height="5.2" fill="#fbe9a0" stroke="#fff" stroke-width="0.95"/><path d="M2.2,-2 Q5,-6 7.8,-2" fill="none" stroke="#fff" stroke-width="0.9"/></g>
<g transform="translate(339.5 252.0) rotate(37)"><rect x="-6.2" y="-4" width="8.4" height="7.6" fill="#fff"/><rect x="3.2" y="-1.6" width="5" height="5.2" fill="#fbe9a0" stroke="#fff" stroke-width="0.95"/><path d="M2.2,-2 Q5,-6 7.8,-2" fill="none" stroke="#fff" stroke-width="0.9"/></g>
<g transform="translate(463.8 324.8) rotate(37)"><rect x="-6.2" y="-4" width="8.4" height="7.6" fill="#fff"/><rect x="3.2" y="-1.6" width="5" height="5.2" fill="#fbe9a0" stroke="#fff" stroke-width="0.95"/><path d="M2.2,-2 Q5,-6 7.8,-2" fill="none" stroke="#fff" stroke-width="0.9"/></g>
<polyline points="231.5,172.5 246.2,182.0" fill="none" stroke="#fff" stroke-width="1.0" />
<polygon points="245.4,181.6 247.3,179.2 253.0,182.0 257.2,186.3 252.0,184.8 248.7,185.6" fill="#fff" stroke="none" stroke-width="0" />
<polyline points="348.8,260.7 362.4,270.0" fill="none" stroke="#fff" stroke-width="1.0" />
<polygon points="361.5,269.2 364.5,267.4 368.0,268.6 371.4,273.4 366.5,272.2 363.4,273.2" fill="#fff" stroke="none" stroke-width="0" />
<g clip-path="url(#zclip)">
<polyline points="1051.5,626.0 1072.2,596.5" fill="none" stroke="#fff" stroke-width="3.4" />
<polyline points="1058.5,626.0 1076.9,599.8" fill="none" stroke="#fff" stroke-width="3.4" />
<polyline points="1065.5,626.0 1081.6,603.1" fill="none" stroke="#fff" stroke-width="3.4" />
<polyline points="1072.5,626.0 1086.0,606.8" fill="none" stroke="#e9e9e9" stroke-width="2.6" />
<polyline points="1072.5,626.0 1086.0,606.8" fill="none" stroke="#3d3e3d" stroke-width="0.5" />
<polyline points="1079.5,626.0 1090.7,610.0" fill="none" stroke="#e9e9e9" stroke-width="2.6" />
<polyline points="1079.5,626.0 1090.7,610.0" fill="none" stroke="#3d3e3d" stroke-width="0.5" />
<polyline points="1086.5,626.0 1095.4,613.3" fill="none" stroke="#e9e9e9" stroke-width="2.6" />
<polyline points="1086.5,626.0 1095.4,613.3" fill="none" stroke="#3d3e3d" stroke-width="0.5" />
<polyline points="1093.5,626.0 1100.1,616.6" fill="none" stroke="#e9e9e9" stroke-width="2.6" />
<polyline points="1093.5,626.0 1100.1,616.6" fill="none" stroke="#3d3e3d" stroke-width="0.5" />
<polyline points="1100.5,626.0 1104.5,620.3" fill="none" stroke="#e9e9e9" stroke-width="2.6" />
<polyline points="1100.5,626.0 1104.5,620.3" fill="none" stroke="#3d3e3d" stroke-width="0.5" />
<polyline points="1107.5,626.0 1109.2,623.5" fill="none" stroke="#e9e9e9" stroke-width="2.6" />
<polyline points="1107.5,626.0 1109.2,623.5" fill="none" stroke="#3d3e3d" stroke-width="0.5" />
</g>
<polygon points="1073.9,597.2 1077.1,597.2 1075.5,594.1" fill="#f2f2f2" stroke="none" stroke-width="0" />
<polygon points="1078.5,600.6 1081.7,600.6 1080.1,597.5" fill="#f2f2f2" stroke="none" stroke-width="0" />
<polygon points="1083.1,603.9 1086.3,603.9 1084.7,600.8" fill="#f2f2f2" stroke="none" stroke-width="0" />
<polygon points="1087.7,607.3 1090.9,607.3 1089.3,604.2" fill="#f2f2f2" stroke="none" stroke-width="0" />
<polygon points="1092.3,610.7 1095.5,610.7 1093.9,607.6" fill="#f2f2f2" stroke="none" stroke-width="0" />
<polygon points="1096.9,614.0 1100.1,614.0 1098.5,610.9" fill="#f2f2f2" stroke="none" stroke-width="0" />
<polygon points="1101.5,617.4 1104.7,617.4 1103.1,614.3" fill="#f2f2f2" stroke="none" stroke-width="0" />
<polygon points="1106.1,620.8 1109.3,620.8 1107.7,617.7" fill="#f2f2f2" stroke="none" stroke-width="0" />
<polygon points="1110.7,624.1 1113.9,624.1 1112.3,621.0" fill="#f2f2f2" stroke="none" stroke-width="0" />
<polygon points="1062.2,612.0 1065.8,612.8 1063.2,616.2" fill="none" stroke="#fff" stroke-width="0.6" />
<polyline points="1043.2,605.2 1067.8,623.9" fill="none" stroke="#111" stroke-width="2.0" />
<polyline points="1019.5,619.6 1032.0,615.8 1045.2,609.8" fill="none" stroke="#111" stroke-width="0.7" />
<polyline points="1022.6,607.8 1029.8,611.9 1017.5,616.5" fill="none" stroke="#fff" stroke-width="1.0" />
<rect x="1045.0" y="612.5" width="2" height="2" fill="#fff" transform="rotate(37 1046.0 613.5)"/>
<rect x="1048.4" y="615.0" width="2" height="2" fill="#fff" transform="rotate(37 1049.4 616.0)"/>
<rect x="1051.8" y="617.6" width="2" height="2" fill="#fff" transform="rotate(37 1052.8 618.6)"/>
<rect x="1055.1" y="620.2" width="2" height="2" fill="#fff" transform="rotate(37 1056.1 621.2)"/>
<rect x="1058.5" y="622.7" width="2" height="2" fill="#fff" transform="rotate(37 1059.5 623.7)"/>
<polygon points="991.8,621.1 1001.0,611.9 1008.3,611.4 1021.6,621.1 1022.6,623.7 991.8,624.0" fill="#0c0c0c" stroke="none" stroke-width="0" />
<polygon points="1002.0,614.0 1008.5,613.0 1018.0,620.5 1017.5,622.0 1010.0,617.0 1006.0,619.0" fill="#8a8a8a" stroke="none" stroke-width="0" />
<polygon points="993.5,624.4 1021.5,621.3 1023.5,624.4" fill="#fff" stroke="none" stroke-width="0" />
<polygon points="967.2,619.0 975.4,607.8 980.0,610.8 971.3,622.1" fill="#111" stroke="none" stroke-width="0" />
<polyline points="969.5,618.0 976.5,610.0" fill="none" stroke="#bbb" stroke-width="1.2" stroke-dasharray="1 1.4" />
<polyline points="979.5,613.9 991.8,616.5" fill="none" stroke="#d9a9a0" stroke-width="0.7" />
<polyline points="1083.6,575.0 1150.3,622.5" fill="none" stroke="#f4f1ea" stroke-width="2.3" />
<polyline points="1113.5,594.2 1148.0,546.7" fill="none" stroke="#fff" stroke-width="2.1" />
<polyline points="1130.4,605.7 1151.0,577.3" fill="none" stroke="#fff" stroke-width="2.1" />
<polyline points="1145.7,617.2 1151.0,609.5" fill="none" stroke="#fff" stroke-width="2.1" />
<polyline points="1058.9,573.3 1088.6,551.0" fill="none" stroke="#000" stroke-width="1.3" stroke-dasharray="14 3" />
<polyline points="1147.0,514.0 1150.9,510.5" fill="none" stroke="#fff" stroke-width="0.8" />
<polyline points="1083.6,573.3 1113.3,529.5 1150.9,481.5" fill="none" stroke="#000" stroke-width="1.3" stroke-dasharray="3.2 1.1" />
<polyline points="1075.2,590.4 1086.0,573.5 1141.0,500.0 1150.9,487.5" fill="none" stroke="#b5b5b5" stroke-width="1.5" />
<polyline points="1086.1,531.0 1150.9,464.4" fill="none" stroke="#c98" stroke-width="0.7" />
<polyline points="330.4,208.5 319.4,220.8 313.3,229.0 344.7,252.5 399.0,294.5 404.0,296.0 414.0,293.8 418.5,288.0 419.3,281.0" fill="none" stroke="#b3b3b3" stroke-width="2.1" />
<polyline points="330.4,208.5 319.4,220.8 313.3,229.0 344.7,252.5 399.0,294.5 404.0,296.0 414.0,293.8 418.5,288.0 419.3,281.0" fill="none" stroke="#f3e39a" stroke-width="0.8" />
<polyline points="330.4,208.5 319.4,220.8" fill="none" stroke="#9aa" stroke-width="1.0" />
<polyline points="330.4,208.5 369.4,235.9 409.1,268.0" fill="none" stroke="#b5b5b5" stroke-width="2.2" />
<polyline points="330.4,208.5 369.4,235.9 409.1,268.0" fill="none" stroke="#eee" stroke-width="0.6" />
<polyline points="409.5,265.2 437.8,288.5 470.1,313.6" fill="none" stroke="#0a0a0a" stroke-width="3.6" />
<polyline points="440.0,291.3 470.0,314.5" fill="none" stroke="#ddd" stroke-width="0.9" stroke-dasharray="2.2 6.2" />
<polyline points="369.4,235.9 401.0,259.5" fill="none" stroke="#222" stroke-width="1.0" />
<polyline points="369.4,237.3 455.0,302.5" fill="none" stroke="#fff" stroke-width="0.6" />
<polyline points="405.0,291.3 418.8,301.3 489.0,352.6" fill="none" stroke="#fff" stroke-width="1.0" stroke-dasharray="5 6.8" stroke-dashoffset="-1"/>
<polyline points="472.0,316.8 507.0,342.2" fill="none" stroke="#fff" stroke-width="2.0" stroke-dasharray="1.3 3" />
<polyline points="220.1,186.3 235.0,196.5" fill="none" stroke="#fff" stroke-width="0.9" />
<polygon points="234.2,196.0 236.2,194.2 235.6,192.5 238.5,193.7 241.5,195.3 244.2,198.0 247.0,200.8 242.5,199.7 239.0,199.7 236.2,198.7" fill="#fff" stroke="none" stroke-width="0" />
<path d="M224.6,186.2l3.6,2.4M227.6,185.6l-2.4,3.6" stroke="#fff" stroke-width="1.3"/>
<polyline points="209.0,201.0 223.7,211.5" fill="none" stroke="#fff" stroke-width="0.85" />
<polygon points="222.3,213.4 233.0,218.2 225.0,209.6" fill="#fff" stroke="none" stroke-width="0" />
<polygon points="199.6,214.6 204.0,214.2 222.7,231.2 212.0,225.0" fill="#e9e9e9" stroke="none" stroke-width="0" />
<polyline points="201.0,216.0 214.8,225.7" fill="none" stroke="#fff" stroke-width="0.6" />
<polygon points="213.5,227.6 223.0,231.5 216.1,223.9" fill="#fff" stroke="none" stroke-width="0" />
<polyline points="337.1,274.5 351.0,284.5" fill="none" stroke="#fff" stroke-width="0.9" />
<polygon points="350.3,284.2 352.4,282.6 352.2,280.9 355.1,282.2 358.7,284.0 360.8,286.5 363.6,289.7 358.7,287.8 354.4,287.8 352.0,286.6" fill="#fff" stroke="none" stroke-width="0" />
<path d="M341.3,275.2l3.6,2.4M344.3,274.6l-2.4,3.6" stroke="#fff" stroke-width="1.3"/>
<polyline points="326.2,289.4 340.9,300.9" fill="none" stroke="#fff" stroke-width="0.85" />
<polygon points="339.5,302.7 350.0,308.0 342.4,299.1" fill="#fff" stroke="none" stroke-width="0" />
<polygon points="325.0,310.5 328.5,310.5 340.0,321.5 332.0,317.0" fill="#e9e9e9" stroke="none" stroke-width="0" />
<polyline points="326.0,311.5 333.6,316.8" fill="none" stroke="#fff" stroke-width="0.6" />
<polygon points="332.3,318.7 341.0,322.0 334.9,315.0" fill="#fff" stroke="none" stroke-width="0" />
<polyline points="303.7,317.7 316.8,328.4" fill="none" stroke="#fff" stroke-width="0.9" />
<polygon points="315.8,327.4 320.3,330.1 321.7,334.8 324.0,338.5 318.9,335.7 314.2,331.5 316.4,330.8" fill="#fff" stroke="none" stroke-width="0" />
<polyline points="304.0,320.0 319.0,331.5" fill="none" stroke="#ddd" stroke-width="0.5" />
<polyline points="497.7,396.3 512.8,407.6" fill="none" stroke="#fff" stroke-width="0.9" />
<polygon points="512.1,407.3 514.2,405.6 513.3,403.4 516.6,404.3 520.3,406.7 525.0,411.9 520.3,410.1 515.6,410.5 513.2,408.8" fill="#fff" stroke="none" stroke-width="0" />
<polyline points="486.7,411.5 501.5,422.6" fill="none" stroke="#fff" stroke-width="0.85" />
<polygon points="500.1,424.4 510.7,429.5 502.9,420.8" fill="#fff" stroke="none" stroke-width="0" />
<polyline points="475.6,426.9 490.2,437.3" fill="none" stroke="#fff" stroke-width="0.85" />
<polygon points="488.9,439.2 499.6,444.0 491.6,435.5" fill="#fff" stroke="none" stroke-width="0" />
<polyline points="465.2,440.6 478.2,451.2" fill="none" stroke="#fff" stroke-width="0.9" />
<polygon points="477.2,450.2 481.7,452.9 483.1,457.6 485.4,461.3 480.3,458.5 475.6,454.3 477.8,453.6" fill="#fff" stroke="none" stroke-width="0" />
<polyline points="674.4,509.1 684.7,516.7" fill="none" stroke="#fff" stroke-width="0.9" />
<polygon points="684.0,516.4 686.1,514.7 685.2,512.5 688.5,513.4 692.2,515.8 696.9,521.0 692.2,519.2 687.5,519.6 685.1,517.9" fill="#fff" stroke="none" stroke-width="0" />
<polyline points="664.2,522.8 677.6,532.8" fill="none" stroke="#fff" stroke-width="0.9" />
<polygon points="676.9,532.5 679.0,530.8 678.1,528.6 681.4,529.5 685.1,531.9 689.8,537.1 685.1,535.3 680.4,535.7 678.0,534.0" fill="#fff" stroke="none" stroke-width="0" />
<polygon points="665.9,546.7 676.3,554.6 667.5,551.7" fill="#fff" stroke="none" stroke-width="0" />
<polyline points="641.9,552.7 655.8,563.0" fill="none" stroke="#fff" stroke-width="0.85" />
<polygon points="654.4,564.8 665.0,569.8 657.1,561.1" fill="#fff" stroke="none" stroke-width="0" />
<polyline points="631.7,566.4 644.1,576.9" fill="none" stroke="#fff" stroke-width="0.9" />
<polygon points="643.1,575.9 647.6,578.6 649.0,583.3 651.3,587.0 646.2,584.2 641.5,580.0 643.7,579.3" fill="#fff" stroke="none" stroke-width="0" />
<polyline points="400.0,310.0 442.8,341.5" fill="none" stroke="#6a6a6a" stroke-width="0.5" stroke-dasharray="1 1.2" />
<polyline points="460.0,402.0 540.0,460.5 740.0,612.0" fill="none" stroke="#575757" stroke-width="0.5" />
<text transform="translate(588.4 488.8) rotate(37.8)" font-size="16" textLength="143" lengthAdjust="spacing" style="fill:#f0f0f0" fill-opacity="0.8">Backer en Ruebweg</text>
<polyline points="626.0,549.9 663.9,499.1 686.0,470.0" fill="none" stroke="#5a5a5a" stroke-width="0.5" />
<polyline points="741.0,438.0 705.0,486.0" fill="none" stroke="#5a5a5a" stroke-width="0.5" />
<text transform="translate(860.6 553.4) rotate(-2) scale(0.37 1)" font-size="13" style="fill:#efefef">STOP</text>
<path d="M829.0,496.6l-2.6,6.2M830.5,497.8l-2.6,6.2M832.0,498.9l-2.6,6.2M833.5,500.1l-2.6,6.2M835.0,501.3l-2.6,6.2M836.4,502.4l-2.6,6.2M837.9,503.6l-2.6,6.2M839.4,504.8l-2.6,6.2M840.9,505.9l-2.6,6.2M842.4,507.1l-2.6,6.2M843.9,508.3l-2.6,6.2M845.4,509.5l-2.6,6.2M846.9,510.6l-2.6,6.2M848.4,511.8l-2.6,6.2M849.9,513.0l-2.6,6.2M851.3,514.1l-2.6,6.2M852.8,515.3l-2.6,6.2M854.3,516.5l-2.6,6.2M855.8,517.6l-2.6,6.2M857.3,518.8l-2.6,6.2M858.8,520.0l-2.6,6.2M860.3,521.1l-2.6,6.2M861.8,522.3l-2.6,6.2M863.3,523.5l-2.6,6.2M864.7,524.6l-2.6,6.2M866.2,525.8l-2.6,6.2M867.7,527.0l-2.6,6.2M869.2,528.1l-2.6,6.2M870.7,529.3l-2.6,6.2M872.2,530.5l-2.6,6.2M873.7,531.7l-2.6,6.2M875.2,532.8l-2.6,6.2M876.7,534.0l-2.6,6.2M878.2,535.2l-2.6,6.2M879.6,536.3l-2.6,6.2M881.1,537.5l-2.6,6.2M882.6,538.7l-2.6,6.2M884.1,539.8l-2.6,6.2M885.6,541.0l-2.6,6.2" stroke="#e6e6e6" stroke-width="0.65" fill="none"/>
<polyline points="828.9,494.6 885.6,538.4" fill="none" stroke="#fff" stroke-width="1.3" />
<path d="M885.4,548.6 Q887,570 894.3,582.5 Q899,592 903.1,598.7" fill="none" stroke="#9a9a9a" stroke-width="1.0"/>
<path d="M828,528 L875.1,573.6 L905,600 Q925,616 950,622" fill="none" stroke="#8a8a8a" stroke-width="0.8"/>
<polyline points="903.1,599.0 935.5,622.2" fill="none" stroke="#b8b8b8" stroke-width="2.6" stroke-dasharray="0.7 0.7" />
<polyline points="551.2,266.7 653.2,349.3" fill="none" stroke="#000" stroke-width="1.65" stroke-dasharray="3.6 0.9" />
<polyline points="530.0,296.5 560.0,316.8 642.1,364.7" fill="none" stroke="#000" stroke-width="1.65" stroke-dasharray="3.6 0.9" />
<polyline points="745.7,425.3 826.0,485.5 827.5,527.0 736.3,439.0" fill="none" stroke="#000" stroke-width="1.65" stroke-dasharray="3.6 0.9" />
<polyline points="885.7,534.7 945.5,574.2 960.0,584.1 970.3,592.4" fill="none" stroke="#000" stroke-width="1.2" />
<polyline points="970.3,592.4 950.7,617.7 941.4,617.1 931.1,609.0 925.2,595.7 922.2,583.9 917.8,573.6 909.0,564.8 895.7,556.0 886.2,548.6 885.7,534.7" fill="none" stroke="#000" stroke-width="1.5" stroke-dasharray="5 0.8" />
<polyline points="966.0,592.5 948.0,617.0" fill="none" stroke="#a9a9a9" stroke-width="1.3" />
<polyline points="797.0,465.0 780.0,486.0" fill="none" stroke="#a9a9a9" stroke-width="0.9" />
<polyline points="780.0,486.0 826.0,524.0" fill="none" stroke="#a9a9a9" stroke-width="0.9" />
<polygon points="652.1,353.1 674.1,365.9 668.5,373.1 649.5,359.8" fill="#2b2b2b" stroke="none" stroke-width="0" />
<polyline points="651.0,356.5 671.3,369.5" fill="none" stroke="#5a5a5a" stroke-width="0.7" stroke-dasharray="0.8 0.8" />
<polyline points="653.4,365.5 653.4,370.0 656.5,371.0" fill="none" stroke="#000" stroke-width="1.4" />
<circle cx="658.4" cy="374.2" r="1.5" fill="#000"/>
<polyline points="660.9,375.8 719.1,417.7 724.2,411.7" fill="none" stroke="#000" stroke-width="1.6" />
<circle cx="724.8" cy="410.6" r="1.7" fill="#000"/>
<polyline points="641.5,363.9 716.5,419.8" fill="none" stroke="#0b0b0b" stroke-width="4.6" />
<polyline points="641.0,364.6 716.0,420.5" fill="none" stroke="#e8e8e8" stroke-width="0.55" stroke-dasharray="1.6 1.1" />
<polyline points="642.6,362.6 717.6,418.5" fill="none" stroke="#cfcfcf" stroke-width="0.5" stroke-dasharray="1.6 1.1" />
<polyline points="722.0,419.5 737.1,431.5 731.5,439.0" fill="none" stroke="#aaa" stroke-width="0.6" />
<polygon points="722.5,421.5 729.5,412.5 743.0,423.0 736.0,432.2" fill="none" stroke="#aaa" stroke-width="0.6" />
<path d="M740.5,388.3 l2.4,-2.8 l2.6,0.6 l0.6,3.2 l-2.6,2.2z" fill="#000"/>
<polyline points="734.0,385.4 738.0,388.6" fill="none" stroke="#000" stroke-width="1.2" />
<polyline points="743.5,393.3 748.0,397.0" fill="none" stroke="#000" stroke-width="1.2" />
<polygon points="739.2,298.8 739.1,293.1 740.6,286.8 744.1,280.4 749.8,274.7 756.2,271.5 763.2,270.5 770.3,271.5 776.7,274.7 782.7,280.4 786.6,286.8 788.1,293.1 788.0,298.8 779.5,304.4 778.8,314.0 765.4,314.0 763.2,315.5 761.1,314.0 748.7,314.0 747.7,304.4" fill="#ee1f25" stroke="#ee1f25" stroke-width="0.6" stroke-linejoin="round"/>
<polygon points="743.1,297.4 743.1,291.7 745.2,286.0 748.7,281.1 754.0,277.2 759.7,274.9 763.2,274.4 767.1,274.9 773.1,277.2 778.4,281.1 782.0,286.0 784.1,291.7 784.1,297.4 776.0,303.0 775.3,310.1 765.4,310.2 763.2,311.5 761.1,310.2 752.3,310.1 751.6,303.0" fill="#f6ea12"/>
<line x1="743.15" y1="289.93" x2="757.62" y2="299.61" stroke="#ee1f25" stroke-width="1.0"/>
<line x1="747.68" y1="282.16" x2="758.88" y2="297.43" stroke="#ee1f25" stroke-width="1.0"/>
<line x1="755.11" y1="276.50" x2="760.96" y2="295.85" stroke="#ee1f25" stroke-width="1.0"/>
<line x1="763.59" y1="274.16" x2="763.34" y2="295.19" stroke="#ee1f25" stroke-width="1.0"/>
<line x1="772.08" y1="276.50" x2="765.71" y2="295.85" stroke="#ee1f25" stroke-width="1.0"/>
<line x1="779.50" y1="282.16" x2="767.79" y2="297.43" stroke="#ee1f25" stroke-width="1.0"/>
<line x1="784.03" y1="289.93" x2="769.06" y2="299.61" stroke="#ee1f25" stroke-width="1.0"/>
<text x="0" y="0" font-size="12" style="fill:#b1afb0" transform="translate(660.8 231.6) rotate(5) skewX(-8)">2</text>
</g>
<rect x="22.5" y="13.1" width="3.4" height="3.4" fill="none" stroke="#9a9a9a" stroke-width="0.8" transform="rotate(12 24.2 14.8)"/>
<g stroke="#000" stroke-width="1" fill="none" shape-rendering="crispEdges">
<path d="M620.5,835V626.5H1155"/>
<path d="M620.5,754.5H1155M847.5,626V754.5M799.5,754.5V835M977.5,754.5V835M977.5,772.5H1155M977.5,791.5H1155M1099.5,791V835"/>
</g>
<text x="628.1" y="641.8" font-size="10.40">Besteknummer:</text>
<text x="628.1" y="653.1" font-size="10.40">Projectmanager:</text>
<text x="628.1" y="665.4" font-size="10.40">Schaal:</text>
<text x="727.2" y="665.4" font-size="10.40">1:500</text>
<text x="628.1" y="677.3" font-size="10.40">Formaat:</text>
<text x="727.2" y="677.3" font-size="10.40">A3</text>
<text x="628.1" y="689.1" font-size="10.40">Getekend door:</text>
<text x="727.2" y="689.1" font-size="10.40">Beerens, P.J.M.</text>
<text x="628.1" y="701.2" font-size="10.40">Datum uitgifte:</text>
<text x="628.1" y="713.0" font-size="10.40">Vrijgegeven door</text>
<text x="628.1" y="724.0" font-size="10.40">het teamhoofd:</text>
<text x="727.2" y="724.0" font-size="10.40">Beerens, P.J.M.</text>
<text x="628.1" y="748.0" font-size="10.40">Status:</text>
<text x="727.2" y="747.8" font-size="14.40">Aanmaken</text>
<text x="855.6" y="662.6" font-size="14.60">Ontsluiting Backer en Ruebweg 2</text>
<text x="855.6" y="680.4" font-size="14.60">tankstation Shell</text>
<text x="855.6" y="697.8" font-size="14.60">verkeersbesluittekening</text>
<text x="664.2" y="789.3" font-size="14.45">Gemeente Breda</text>
<text x="805.5" y="789.3" font-size="10.40">Directie Beheer</text>
<text x="805.5" y="808.4" font-size="10.40">Afdeling Stadsingenieurs Breda</text>
<text x="985.0" y="765.6" font-size="7.00">dms: 17124</text>
<text x="1035.5" y="765.6" font-size="7.00">SIB-BRK-INF-0009.dgn</text>
<text x="985.0" y="785.0" font-size="10.20">Documenttype:</text>
<text x="1061.0" y="785.0" font-size="10.20">Tekening</text>
<text x="985.0" y="804.8" font-size="10.20">Documentnummer:</text>
<text x="985.0" y="827.6" font-size="20.50">309544</text>
<text x="1106.8" y="804.8" font-size="10.20">Versie:</text>
<text x="1106.8" y="827.6" font-size="20.50">0</text>
<text x="628.1" y="818.2" font-size="5.10" font-weight="bold">Bezoekadres:</text>
<text x="628.1" y="822.5" font-size="5.10" font-weight="bold">Telefoon:</text>
<text x="628.1" y="827.9" font-size="5.10" font-weight="bold">Postadres:</text>
<text x="668.1" y="818.2" font-size="5.10" font-weight="bold">Claudius Prinsenlaan 10, 4811 DJ Breda.</text>
<text x="668.1" y="822.5" font-size="5.10" font-weight="bold">14 076</text>
<text x="668.1" y="827.9" font-size="5.10" font-weight="bold">Postbus 90156, 4800 RH Breda</text>
<line x1="628.95" y1="778.10" x2="640.55" y2="789.70" stroke="#e8131b" stroke-width="2.9"/>
<line x1="628.95" y1="789.70" x2="640.55" y2="778.10" stroke="#e8131b" stroke-width="2.9"/>
<line x1="642.10" y1="778.10" x2="653.70" y2="789.70" stroke="#e8131b" stroke-width="2.9"/>
<line x1="642.10" y1="789.70" x2="653.70" y2="778.10" stroke="#e8131b" stroke-width="2.9"/>
<line x1="635.50" y1="784.80" x2="647.10" y2="796.40" stroke="#e8131b" stroke-width="2.9"/>
<line x1="635.50" y1="796.40" x2="647.10" y2="784.80" stroke="#e8131b" stroke-width="2.9"/>
<line x1="628.55" y1="777.70" x2="640.95" y2="790.10" stroke="#fff" stroke-width="0.75"/>
<line x1="628.55" y1="790.10" x2="640.95" y2="777.70" stroke="#fff" stroke-width="0.75"/>
<line x1="641.70" y1="777.70" x2="654.10" y2="790.10" stroke="#fff" stroke-width="0.75"/>
<line x1="641.70" y1="790.10" x2="654.10" y2="777.70" stroke="#fff" stroke-width="0.75"/>
<line x1="635.10" y1="784.40" x2="647.50" y2="796.80" stroke="#fff" stroke-width="0.75"/>
<line x1="635.10" y1="796.80" x2="647.50" y2="784.40" stroke="#fff" stroke-width="0.75"/>
<rect x="10.5" y="10.5" width="1146" height="825" fill="none" stroke="#000" stroke-width="3"/>
<path d="M561.3,0V10M561.3,836V849" stroke="#000" stroke-width="1.2"/>
</svg></body></html>
